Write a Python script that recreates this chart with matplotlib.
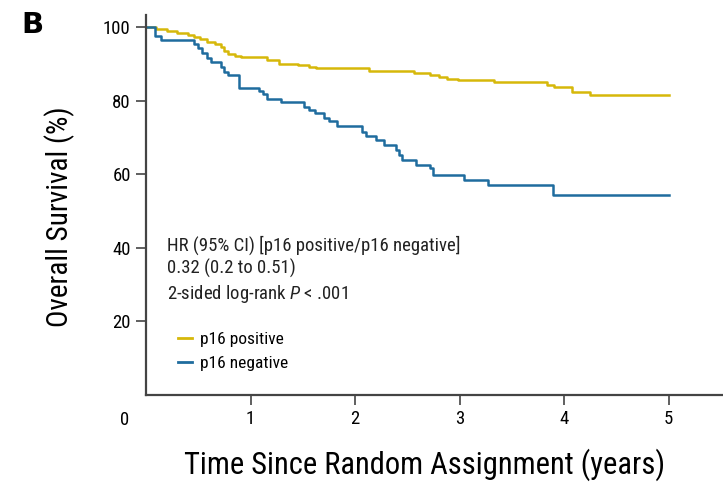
import matplotlib.pyplot as plt
from matplotlib import font_manager as fm
from matplotlib.lines import Line2D

# pick a narrow sans if one is installed
names = {f.name for f in fm.fontManager.ttflist}
dejavuCond = any(f.name == 'DejaVu Sans' and f.stretch == 'condensed' for f in fm.fontManager.ttflist)
narrowFam = None
for cand in ['Liberation Sans Narrow', 'Roboto Condensed', 'Open Sans Condensed',
             'Noto Sans Condensed', 'Arial Narrow']:
    if cand in names:
        narrowFam = cand
        break
if narrowFam is None:
    others = sorted(n for n in names if 'Narrow' in n or 'Condensed' in n)
    if others:
        narrowFam = others[0]
if narrowFam is None:
    narrowFam = 'DejaVu Sans'
    if dejavuCond:
        plt.rcParams['font.stretch'] = 'condensed'

plt.rcParams['font.family'] = [narrowFam, 'DejaVu Sans']
plt.rcParams['mathtext.fontset'] = 'custom'
plt.rcParams['mathtext.rm'] = narrowFam
plt.rcParams['mathtext.it'] = narrowFam + ':italic'

# p16 positive (yellow)
posTime = [0, 0.1, 0.2, 0.3, 0.4, 0.46, 0.52, 0.58, 0.66, 0.713, 0.75, 0.78, 0.85,
           0.905, 1.16, 1.27, 1.45, 1.56, 1.63, 2.13, 2.56, 2.72, 2.80, 2.88, 2.98,
           3.33, 3.84, 3.90, 4.08, 4.25, 5.0]
posSurv = [100, 99.4, 98.9, 98.4, 97.9, 97.4, 96.7, 96.0, 95.3, 94.5, 93.4, 92.6, 92.2,
           91.8, 91.0, 90.1, 89.6, 89.2, 88.8, 88.1, 87.6, 87.0, 86.4, 85.9, 85.6,
           85.0, 84.3, 83.6, 82.4, 81.5, 81.5]

# p16 negative (blue)
negTime = [0, 0.09, 0.14, 0.46, 0.50, 0.54, 0.585, 0.62, 0.713, 0.75, 0.78, 0.888,
           1.08, 1.12, 1.16, 1.29, 1.51, 1.56, 1.62, 1.70, 1.75, 1.83, 2.07, 2.10,
           2.20, 2.28, 2.39, 2.42, 2.45, 2.58, 2.72, 2.75, 3.04, 3.27, 3.89, 5.0]
negSurv = [100, 97.6, 96.5, 95.3, 94.2, 92.9, 91.6, 90.6, 89.2, 87.9, 87.0, 83.4,
           82.6, 81.8, 80.5, 79.6, 78.4, 77.5, 76.7, 75.3, 74.6, 73.1, 71.6, 70.4,
           69.3, 68.0, 66.6, 65.2, 63.9, 62.5, 61.7, 59.8, 58.5, 57.1, 54.4, 54.4]

xTicks = [1, 2, 3, 4, 5]
yTicks = [20, 40, 60, 80, 100]

yellow = '#d6b80a'
blue = '#1f6c9e'

fig = plt.figure(figsize=(7.23, 4.84), dpi=100)
ax = fig.add_axes([0.202, 0.184, 0.798, 0.785])

ax.step(posTime, posSurv, where='post', color=yellow, lw=1.8)
ax.step(negTime, negSurv, where='post', color=blue, lw=1.8)

ax.set_xlim(0, 5.52)
ax.set_ylim(0, 103.3)
ax.set_xticks(xTicks)
ax.set_yticks(yTicks)
ax.tick_params(labelsize=13.5, length=7, width=1.2, color='#444444', pad=4)
for s in ['top', 'right']:
    ax.spines[s].set_visible(False)
for s in ['left', 'bottom']:
    ax.spines[s].set_color('#444444')
    ax.spines[s].set_linewidth(1.6)

ax.annotate('0', xy=(0, 0), xytext=(-21, -25), textcoords='offset pixels',
            ha='center', va='center', fontsize=13.5)

ax.set_ylabel('Overall Survival (%)', fontsize=21)
ax.yaxis.set_label_coords(-0.123, 0.47)
ax.set_xlabel('Time Since Random Assignment (years)', fontsize=22)
ax.xaxis.set_label_coords(0.482, -0.14)

ax.text(0.036, 0.42,
        'HR (95% CI) [p16 positive/p16 negative]\n0.32 (0.2 to 0.51)\n2-sided log-rank $P$ < .001',
        transform=ax.transAxes, va='top', ha='left', fontsize=13.5, linespacing=1.28,
        color='#222222')

handles = [Line2D([], [], color=yellow, lw=2), Line2D([], [], color=blue, lw=2)]
ax.legend(handles, ['p16 positive', 'p16 negative'], loc='upper left',
          bbox_to_anchor=(0.028, 0.207), frameon=False, fontsize=12.5,
          handlelength=0.8, handletextpad=0.5, labelspacing=0.5)

fig.text(0.03, 0.948, 'B', fontsize=21, fontweight='bold', family='DejaVu Sans',
         va='center')

fig.savefig('out.png', dpi=100)
